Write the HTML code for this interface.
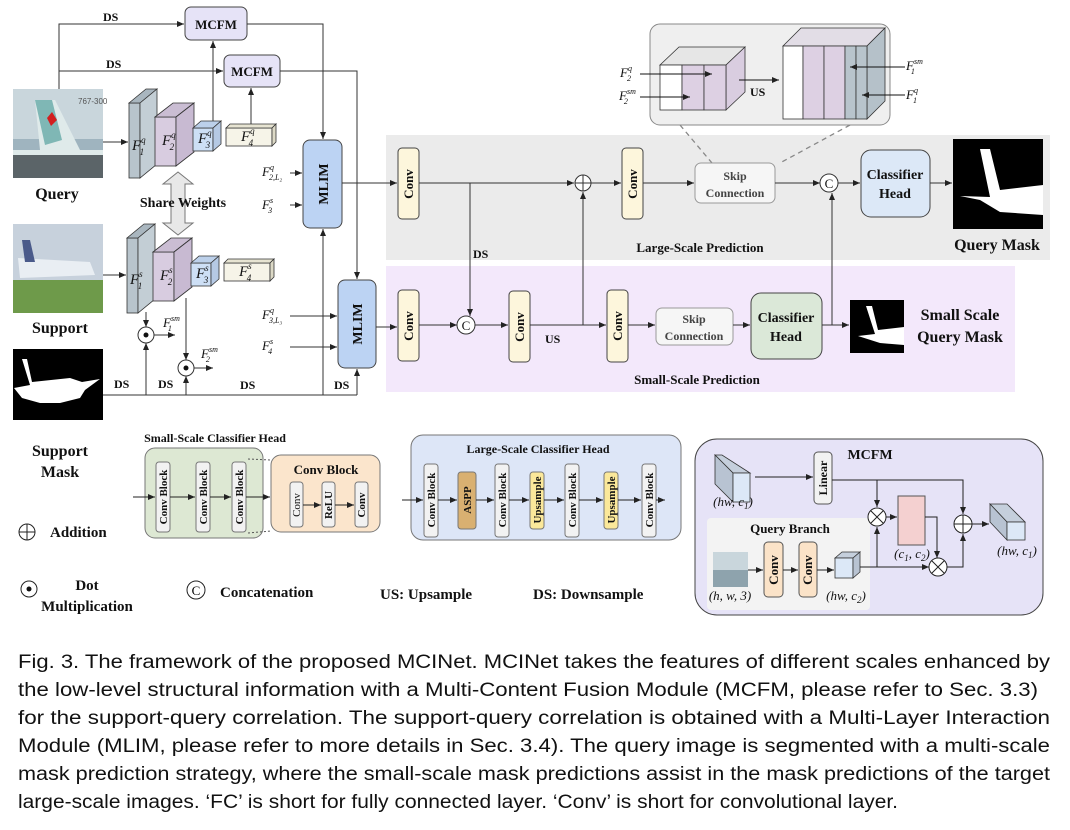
<!DOCTYPE html>
<html><head><meta charset="utf-8"><style>
html,body{margin:0;padding:0;background:#fff;}
svg{display:block;}
.b{font-family:"Liberation Serif",serif;font-weight:bold;fill:#111;}
.m{font-family:"Liberation Serif",serif;font-style:italic;fill:#111;}
.cap{font-family:"Liberation Sans",sans-serif;font-size:19px;fill:#111;}
</style></head><body>
<svg width="1070" height="830" viewBox="0 0 1070 830" xmlns="http://www.w3.org/2000/svg">
<defs>
<marker id="a" markerWidth="8" markerHeight="8" refX="7" refY="4" orient="auto" markerUnits="userSpaceOnUse"><path d="M0,1 L7,4 L0,7 z" fill="#222"/></marker>
</defs>

<!-- bands -->
<rect x="386" y="135" width="664" height="125" fill="#ebebeb"/>
<rect x="386" y="266" width="629" height="126" fill="#f3e8fb"/>

<!-- images -->
<rect x="13" y="89" width="90" height="89" fill="#9fb4bf"/>
<rect x="13" y="89" width="90" height="50" fill="#c9d6dc"/>
<polygon points="35,100 55,100 80,150 103,150 103,178 13,178 13,150 40,150" fill="#dfeaea"/>
<polygon points="35,100 52,100 62,140 45,145" fill="#7fb7b5"/>
<polygon points="47,118 52,112 57,120 51,126" fill="#d31f1f"/>
<rect x="13" y="155" width="90" height="23" fill="#5b6468"/>
<text x="78" y="104" font-family="Liberation Sans" font-size="8" fill="#555">767-300</text>
<rect x="13" y="224" width="90" height="89" fill="#c7d1dc"/>
<rect x="13" y="280" width="90" height="33" fill="#6e9a4a"/>
<polygon points="18,258 90,262 95,275 20,278" fill="#e9eef3"/>
<polygon points="22,240 30,240 35,262 25,262" fill="#4a5a8a"/>
<rect x="13" y="349" width="90" height="71" fill="#000"/>
<polygon points="22,359 27,359 32,382 70,378 82,382 100,379 85,390 80,398 60,403 40,403 22,398 14,388 30,385" fill="#fff"/>

<text class="b" x="57" y="199" font-size="16" text-anchor="middle">Query</text>
<text class="b" x="60" y="333" font-size="16" text-anchor="middle">Support</text>
<text class="b" x="60" y="456" font-size="16" text-anchor="middle">Support</text>
<text class="b" x="60" y="477" font-size="16" text-anchor="middle">Mask</text>

<!-- query cubes -->
<g id="cq" stroke="#333" stroke-width="0.8">
<rect x="129" y="103" width="11" height="75" fill="#b8c4cc"/>
<polygon points="129,103 146,89 157,89 140,103" fill="#a9b6bf"/>
<polygon points="140,103 157,89 157,164 140,178" fill="#c3ced5"/>
<rect x="155" y="117" width="21" height="49" fill="#d8cce0"/>
<polygon points="155,117 173,103 194,103 176,117" fill="#cabdd3"/>
<polygon points="176,117 194,103 194,152 176,166" fill="#c8bad2"/>
<rect x="193" y="128" width="20" height="23" fill="#cddff5"/>
<polygon points="193,128 201,121 221,121 213,128" fill="#bcd0ea"/>
<polygon points="213,128 221,121 221,144 213,151" fill="#b5c9e4"/>
<rect x="226" y="128" width="46" height="18" fill="#f6f4e8"/>
<polygon points="226,128 230,124 276,124 272,128" fill="#e7e4d2"/>
<polygon points="272,128 276,124 276,142 272,146" fill="#dcd9c6"/>
</g>
<use href="#cq" transform="translate(-2,135)"/>
<g class="m" font-size="15">
<text x="132" y="150">F<tspan font-size="9" dy="-7">q</tspan><tspan font-size="9" dx="-6" dy="12">1</tspan></text>
<text x="162" y="145">F<tspan font-size="9" dy="-7">q</tspan><tspan font-size="9" dx="-6" dy="12">2</tspan></text>
<text x="198" y="143">F<tspan font-size="9" dy="-7">q</tspan><tspan font-size="9" dx="-6" dy="12">3</tspan></text>
<text x="241" y="141">F<tspan font-size="9" dy="-7">q</tspan><tspan font-size="9" dx="-6" dy="12">4</tspan></text>
<text x="130" y="284">F<tspan font-size="9" dy="-7">s</tspan><tspan font-size="9" dx="-5" dy="12">1</tspan></text>
<text x="160" y="280">F<tspan font-size="9" dy="-7">s</tspan><tspan font-size="9" dx="-5" dy="12">2</tspan></text>
<text x="196" y="278">F<tspan font-size="9" dy="-7">s</tspan><tspan font-size="9" dx="-5" dy="12">3</tspan></text>
<text x="239" y="276">F<tspan font-size="9" dy="-7">s</tspan><tspan font-size="9" dx="-5" dy="12">4</tspan></text>
</g>

<!-- share weights arrow -->
<polygon points="178,172 193,184 185,184 185,223 193,223 178,235 163,223 171,223 171,184 163,184" fill="#e8e8e8" stroke="#777"/>
<text class="b" x="183" y="207" font-size="14" text-anchor="middle">Share Weights</text>

<!-- MCFM boxes -->
<rect x="185" y="7" width="62" height="33" rx="6" fill="#e6e3f7" stroke="#444"/>
<text class="b" x="216" y="29" font-size="13" text-anchor="middle">MCFM</text>
<rect x="224" y="55" width="56" height="32" rx="6" fill="#e6e3f7" stroke="#444"/>
<text class="b" x="252" y="76" font-size="13" text-anchor="middle">MCFM</text>

<!-- MLIM -->
<rect x="303" y="140" width="39" height="88" rx="7" fill="#bcd3f3" stroke="#444"/>
<text class="b" x="328" y="184" font-size="14" text-anchor="middle" transform="rotate(-90 328 184)" dy="0">MLIM</text>
<rect x="338" y="280" width="38" height="88" rx="7" fill="#bcd3f3" stroke="#444"/>
<text class="b" x="362" y="324" font-size="14" text-anchor="middle" transform="rotate(-90 362 324)">MLIM</text>

<g stroke="#333" stroke-width="1" fill="none">
<path d="M59,89 V24 H184" marker-end="url(#a)"/>
<path d="M59,71 H223" marker-end="url(#a)"/>
<path d="M247,24 H323 V139" marker-end="url(#a)"/>
<path d="M280,71 H357 V279" marker-end="url(#a)"/>
<path d="M213,121 V41" marker-end="url(#a)"/>
<path d="M251,124 V88" marker-end="url(#a)"/>
<path d="M103,142 H128" marker-end="url(#a)"/>
<path d="M103,275 H126" marker-end="url(#a)"/>
<path d="M290,173 H302" marker-end="url(#a)"/>
<path d="M290,205 H302" marker-end="url(#a)"/>
<path d="M290,316 H337" marker-end="url(#a)"/>
<path d="M290,347 H337" marker-end="url(#a)"/>
<path d="M342,183 H397" marker-end="url(#a)"/>
<path d="M376,327 H397" marker-end="url(#a)"/>
<path d="M103,395 H357"/>
<path d="M146,395 V343" marker-end="url(#a)"/>
<path d="M186,395 V376" marker-end="url(#a)"/>
<path d="M323,395 V229" marker-end="url(#a)"/>
<path d="M357,395 V369" marker-end="url(#a)"/>
<path d="M146,312 V327" marker-end="url(#a)"/>
<path d="M186,298 V360" marker-end="url(#a)"/>
<path d="M154,335 H175" marker-end="url(#a)"/>
<path d="M194,368 H213" marker-end="url(#a)"/>
</g>
<g stroke="#333" fill="#fff"><circle cx="146" cy="335" r="8"/><circle cx="186" cy="368" r="8"/></g>
<circle cx="146" cy="335" r="2.5" fill="#111"/><circle cx="186" cy="368" r="2.5" fill="#111"/>
<g class="m" font-size="13">
<text x="163" y="327">F<tspan font-size="8" dy="-6">sm</tspan><tspan font-size="8" dx="-12" dy="10">1</tspan></text>
<text x="201" y="358">F<tspan font-size="8" dy="-6">sm</tspan><tspan font-size="8" dx="-12" dy="10">2</tspan></text>
<text x="262" y="176">F<tspan font-size="8" dy="-6">q</tspan><tspan font-size="8" dx="-5" dy="10">2,L₂</tspan></text>
<text x="262" y="209">F<tspan font-size="8" dy="-6">s</tspan><tspan font-size="8" dx="-5" dy="10">3</tspan></text>
<text x="262" y="319">F<tspan font-size="8" dy="-6">q</tspan><tspan font-size="8" dx="-5" dy="10">3,L₃</tspan></text>
<text x="262" y="350">F<tspan font-size="8" dy="-6">s</tspan><tspan font-size="8" dx="-5" dy="10">4</tspan></text>
</g>
<g class="b" font-size="12">
<text x="103" y="21">DS</text><text x="106" y="68">DS</text>
<text x="114" y="388">DS</text><text x="158" y="388">DS</text><text x="240" y="389">DS</text><text x="334" y="389">DS</text>
</g>

<!-- inset -->
<path d="M680,125 L712,163 M850,125 L780,163" stroke="#888" stroke-width="1.3" stroke-dasharray="5,4"/>
<rect x="650" y="24" width="240" height="101" rx="10" fill="#efefef" stroke="#888"/>
<g stroke="#333" stroke-width="0.8">
<polygon points="660,65 679,47 745,47 726,65" fill="#e6e6e6"/>
<polygon points="726,65 745,47 745,92 726,110" fill="#d9cde0"/>
<rect x="660" y="65" width="22" height="45" fill="#fff"/>
<rect x="682" y="65" width="22" height="45" fill="#ddd0e3"/>
<rect x="704" y="65" width="22" height="45" fill="#ddd0e3"/>
<polygon points="783,46 801,28 885,28 867,46" fill="#e2dde6"/>
<polygon points="867,46 885,28 885,101 867,119" fill="#b5c1c9"/>
<rect x="783" y="46" width="20" height="73" fill="#fff"/>
<rect x="803" y="46" width="21" height="73" fill="#ddd0e3"/>
<rect x="824" y="46" width="21" height="73" fill="#ddd0e3"/>
<rect x="845" y="46" width="11" height="73" fill="#b8c4cc"/>
<rect x="856" y="46" width="11" height="73" fill="#b8c4cc"/>
</g>
<g stroke="#111" fill="none">
<path d="M640,74 H712" marker-end="url(#a)"/>
<path d="M640,97 H690" marker-end="url(#a)"/>
<path d="M739,80 H779" marker-end="url(#a)"/>
<path d="M905,67 H850" marker-end="url(#a)"/>
<path d="M905,95 H862" marker-end="url(#a)"/>
</g>
<g class="m" font-size="13">
<text x="620" y="77">F<tspan font-size="8" dy="-6">q</tspan><tspan font-size="8" dx="-5" dy="10">2</tspan></text>
<text x="619" y="100">F<tspan font-size="8" dy="-6">sm</tspan><tspan font-size="8" dx="-12" dy="10">2</tspan></text>
<text x="906" y="70">F<tspan font-size="8" dy="-6">sm</tspan><tspan font-size="8" dx="-12" dy="10">1</tspan></text>
<text x="906" y="99">F<tspan font-size="8" dy="-6">q</tspan><tspan font-size="8" dx="-5" dy="10">1</tspan></text>
</g>
<text class="b" x="750" y="96" font-size="12">US</text>

<!-- large row -->
<g stroke="#444" stroke-width="1">
<rect x="398" y="148" width="21" height="71" rx="4" fill="#fdf6dc"/>
<rect x="622" y="148" width="21" height="71" rx="4" fill="#fdf6dc"/>
<rect x="695" y="163" width="80" height="40" rx="6" fill="#f6f6f6" stroke="#999"/>
<rect x="861" y="150" width="69" height="67" rx="10" fill="#dce8f7"/>
<rect x="398" y="290" width="21" height="71" rx="4" fill="#fdf6dc"/>
<rect x="509" y="291" width="21" height="71" rx="4" fill="#fdf6dc"/>
<rect x="607" y="290" width="21" height="72" rx="4" fill="#fdf6dc"/>
<rect x="656" y="308" width="77" height="37" rx="6" fill="#f6f6f6" stroke="#999"/>
<rect x="751" y="293" width="71" height="66" rx="10" fill="#dbe8d8"/>
</g>
<g class="b" font-size="13" text-anchor="middle">
<text transform="translate(413,184) rotate(-90)">Conv</text>
<text transform="translate(637,184) rotate(-90)">Conv</text>
<text transform="translate(413,326) rotate(-90)">Conv</text>
<text transform="translate(524,327) rotate(-90)">Conv</text>
<text transform="translate(622,326) rotate(-90)">Conv</text>
</g>
<g class="b" text-anchor="middle" fill="#333">
<text x="735" y="180" font-size="12" fill="#444">Skip</text><text x="735" y="197" font-size="12" fill="#444">Connection</text>
<text x="694" y="323" font-size="12" fill="#444">Skip</text><text x="694" y="340" font-size="12" fill="#444">Connection</text>
<text x="895" y="179" font-size="14">Classifier</text><text x="895" y="198" font-size="14">Head</text>
<text x="786" y="322" font-size="14">Classifier</text><text x="786" y="341" font-size="14">Head</text>
</g>
<g stroke="#333" fill="none">
<path d="M419,183 H574" marker-end="url(#a)"/>
<path d="M591,183 H621" marker-end="url(#a)"/>
<path d="M643,183 H694" marker-end="url(#a)"/>
<path d="M775,183 H820" marker-end="url(#a)"/>
<path d="M838,183 H860" marker-end="url(#a)"/>
<path d="M930,183 H952" marker-end="url(#a)"/>
<path d="M470,183 V316" marker-end="url(#a)"/>
<path d="M419,325 H457" marker-end="url(#a)"/>
<path d="M475,325 H508" marker-end="url(#a)"/>
<path d="M530,325 H606" marker-end="url(#a)"/>
<path d="M583,325 V192" marker-end="url(#a)"/>
<path d="M628,325 H655" marker-end="url(#a)"/>
<path d="M733,325 H750" marker-end="url(#a)"/>
<path d="M822,325 H849" marker-end="url(#a)"/>
<path d="M832,325 V193" marker-end="url(#a)"/>
</g>
<g stroke="#333" fill="#fff">
<circle cx="583" cy="183" r="8"/><circle cx="829" cy="183" r="9"/><circle cx="466" cy="325" r="9"/>
</g>
<path d="M575,183 H591 M583,175 V191" stroke="#333"/>
<g font-family="Liberation Serif" font-size="13" text-anchor="middle" fill="#111"><text x="829" y="188">C</text><text x="466" y="330">C</text></g>
<text class="b" x="473" y="258" font-size="12">DS</text>
<text class="b" x="545" y="343" font-size="12">US</text>
<text class="b" x="700" y="252" font-size="13" text-anchor="middle">Large-Scale Prediction</text>
<text class="b" x="697" y="384" font-size="13" text-anchor="middle">Small-Scale Prediction</text>

<!-- masks -->
<rect x="953" y="139" width="90" height="90" fill="#000"/>
<polygon points="980,149 990,149 1000,190 1043,185 1043,215 1000,212 980,200 960,196 990,197" fill="#fff"/>
<text class="b" x="997" y="250" font-size="16" text-anchor="middle">Query Mask</text>
<rect x="850" y="300" width="54" height="53" fill="#000"/>
<polygon points="866,306 872,306 878,330 904,327 904,345 880,343 858,336 875,334" fill="#fff"/>
<text class="b" x="960" y="320" font-size="16" text-anchor="middle">Small Scale</text>
<text class="b" x="960" y="342" font-size="16" text-anchor="middle">Query Mask</text>

<!-- small-scale classifier head -->
<text class="b" x="215" y="442" font-size="12" text-anchor="middle">Small-Scale Classifier Head</text>
<rect x="145" y="448" width="118" height="90" rx="10" fill="#dde8d3" stroke="#777"/>
<path d="M248,459 L271,460 M248,533 L271,531" stroke="#555" stroke-dasharray="2,2"/>
<rect x="271" y="455" width="109" height="77" rx="10" fill="#fbe5cc" stroke="#777"/>
<text class="b" x="326" y="474" font-size="13" text-anchor="middle">Conv Block</text>
<g stroke="#777" fill="#f2f2f2">
<rect x="156" y="462" width="14" height="70" rx="3"/><rect x="196" y="462" width="14" height="70" rx="3"/><rect x="232" y="462" width="14" height="70" rx="3"/>
<rect x="290" y="482" width="13" height="45" rx="3"/><rect x="322" y="482" width="13" height="45" rx="3"/><rect x="355" y="482" width="13" height="45" rx="3"/>
</g>
<g stroke="#222" fill="none">
<path d="M133,497 H155" marker-end="url(#a)"/><path d="M170,497 H195" marker-end="url(#a)"/><path d="M210,497 H231" marker-end="url(#a)"/><path d="M246,497 H270" marker-end="url(#a)"/>
<path d="M303,505 H321" marker-end="url(#a)"/><path d="M335,505 H354" marker-end="url(#a)"/>
</g>
<g class="b" font-size="11" text-anchor="middle">
<text transform="translate(167,497) rotate(-90)">Conv Block</text>
<text transform="translate(207,497) rotate(-90)">Conv Block</text>
<text transform="translate(243,497) rotate(-90)">Conv Block</text>
<text transform="translate(300,505) rotate(-90)" font-weight="normal">Conv</text>
<text transform="translate(332,505) rotate(-90)">ReLU</text>
<text transform="translate(365,505) rotate(-90)">Conv</text>
</g>

<!-- large-scale classifier head -->
<rect x="411" y="435" width="270" height="105" rx="12" fill="#dde6f7" stroke="#777"/>
<text class="b" x="538" y="453" font-size="12" text-anchor="middle">Large-Scale Classifier Head</text>
<g stroke="#777">
<rect x="424" y="464" width="14" height="73" rx="3" fill="#f2f2f2"/>
<rect x="458" y="472" width="18" height="57" rx="3" fill="#d9b071"/>
<rect x="495" y="464" width="14" height="73" rx="3" fill="#f2f2f2"/>
<rect x="530" y="472" width="14" height="57" rx="3" fill="#fbe89a"/>
<rect x="565" y="464" width="14" height="73" rx="3" fill="#f2f2f2"/>
<rect x="604" y="472" width="14" height="57" rx="3" fill="#fbe89a"/>
<rect x="642" y="464" width="14" height="73" rx="3" fill="#f2f2f2"/>
</g>
<g stroke="#222" fill="none">
<path d="M402,500 H423" marker-end="url(#a)"/><path d="M438,500 H457" marker-end="url(#a)"/><path d="M476,500 H494" marker-end="url(#a)"/>
<path d="M509,500 H529" marker-end="url(#a)"/><path d="M544,500 H564" marker-end="url(#a)"/><path d="M579,500 H603" marker-end="url(#a)"/>
<path d="M618,500 H641" marker-end="url(#a)"/><path d="M656,500 H665" marker-end="url(#a)"/>
</g>
<g class="b" font-size="11" text-anchor="middle">
<text transform="translate(435,500) rotate(-90)">Conv Block</text>
<text transform="translate(471,500) rotate(-90)">ASPP</text>
<text transform="translate(506,500) rotate(-90)">Conv Block</text>
<text transform="translate(541,500) rotate(-90)">Upsample</text>
<text transform="translate(576,500) rotate(-90)">Conv Block</text>
<text transform="translate(615,500) rotate(-90)">Upsample</text>
<text transform="translate(653,500) rotate(-90)">Conv Block</text>
</g>

<!-- MCFM big -->
<rect x="695" y="439" width="348" height="176" rx="22" fill="#e6e3f7" stroke="#444"/>
<text class="b" x="870" y="459" font-size="14" text-anchor="middle">MCFM</text>
<rect x="707" y="518" width="163" height="92" rx="4" fill="#f3f3f3"/>
<text class="b" x="790" y="533" font-size="13" text-anchor="middle">Query Branch</text>
<g stroke="#333" stroke-width="0.8">
<polygon points="715,455 722,455 750,473 733,473" fill="#c5cfdc"/>
<polygon points="715,455 733,473 733,502 715,484" fill="#b8c3d2"/>
<rect x="733" y="473" width="17" height="29" fill="#dce8f7"/>
<polygon points="990,504 1007,504 1025,522 1007,522" fill="#c5cfdc"/>
<polygon points="990,504 1007,522 1007,540 990,522" fill="#b8c3d2"/>
<rect x="1007" y="522" width="18" height="18" fill="#dce8f7"/>
<polygon points="835,558 842,552 860,552 853,558" fill="#c5cfdc"/>
<rect x="835" y="558" width="18" height="20" fill="#dce8f7"/>
<polygon points="853,558 860,552 860,572 853,578" fill="#b8c3d2"/>
</g>
<rect x="814" y="452" width="18" height="52" rx="4" fill="#f2f2f2" stroke="#555"/>
<text class="b" font-size="12" text-anchor="middle" transform="translate(827,478) rotate(-90)">Linear</text>
<rect x="898" y="496" width="27" height="49" fill="#f4d0d0" stroke="#555"/>
<rect x="713" y="552" width="35" height="35" fill="#8ea3ad"/><rect x="713" y="552" width="35" height="18" fill="#c9d6dc"/>
<rect x="764" y="542" width="19" height="55" rx="4" fill="#fbe3c8" stroke="#555"/>
<rect x="799" y="542" width="18" height="55" rx="4" fill="#fbe3c8" stroke="#555"/>
<g class="b" font-size="13" text-anchor="middle"><text transform="translate(778,570) rotate(-90)">Conv</text><text transform="translate(812,570) rotate(-90)">Conv</text></g>
<g stroke="#222" fill="none">
<path d="M755,477 H813" marker-end="url(#a)"/>
<path d="M832,480 H963 V514" marker-end="url(#a)"/>
<path d="M877,480 V507" marker-end="url(#a)"/>
<path d="M886,517 H897" marker-end="url(#a)"/>
<path d="M925,517 H937 V558" marker-end="url(#a)"/>
<path d="M748,570 H763" marker-end="url(#a)"/>
<path d="M783,570 H798" marker-end="url(#a)"/>
<path d="M817,570 H834" marker-end="url(#a)"/>
<path d="M860,567 H929" marker-end="url(#a)"/>
<path d="M877,567 V527" marker-end="url(#a)"/>
<path d="M947,567 H963 V534" marker-end="url(#a)"/>
<path d="M972,524 H989" marker-end="url(#a)"/>
</g>
<g stroke="#222" fill="#fff"><circle cx="877" cy="517" r="9"/><circle cx="938" cy="567" r="9"/><circle cx="963" cy="524" r="9"/></g>
<path d="M871,511 L883,523 M883,511 L871,523 M932,561 L944,573 M944,561 L932,573 M954,524 H972 M963,515 V533" stroke="#222"/>
<g class="m" font-size="13" text-anchor="middle">
<text x="733" y="506">(hw, c<tspan font-size="9" dy="3">1</tspan><tspan dy="-3">)</tspan></text>
<text x="912" y="558">(c<tspan font-size="9" dy="3">1</tspan><tspan dy="-3">, c</tspan><tspan font-size="9" dy="3">2</tspan><tspan dy="-3">)</tspan></text>
<text x="1017" y="555">(hw, c<tspan font-size="9" dy="3">1</tspan><tspan dy="-3">)</tspan></text>
<text x="730" y="600">(h, w, 3)</text>
<text x="846" y="600">(hw, c<tspan font-size="9" dy="3">2</tspan><tspan dy="-3">)</tspan></text>
</g>

<!-- legend -->
<circle cx="27" cy="532" r="8" fill="none" stroke="#222"/><path d="M19,532 H35 M27,524 V540" stroke="#222"/>
<text class="b" x="50" y="537" font-size="15">Addition</text>
<circle cx="29" cy="589" r="8" fill="none" stroke="#222"/><circle cx="29" cy="589" r="2.5" fill="#111"/>
<text class="b" x="87" y="590" font-size="15" text-anchor="middle">Dot</text>
<text class="b" x="87" y="611" font-size="15" text-anchor="middle">Multiplication</text>
<circle cx="196" cy="590" r="9" fill="none" stroke="#222"/><text x="196" y="595" font-family="Liberation Serif" font-size="13" text-anchor="middle">C</text>
<text class="b" x="220" y="597" font-size="15">Concatenation</text>
<text class="b" x="380" y="599" font-size="15">US: Upsample</text>
<text class="b" x="533" y="599" font-size="15">DS: Downsample</text>

<!-- caption -->
<text class="cap" x="18" y="668" textLength="1032" lengthAdjust="spacingAndGlyphs">Fig. 3.  The framework of the proposed MCINet. MCINet takes the features of different scales enhanced by</text>
<text class="cap" x="18" y="696" textLength="1020" lengthAdjust="spacingAndGlyphs">the low-level structural information with a Multi-Content Fusion Module (MCFM, please refer to Sec. 3.3)</text>
<text class="cap" x="18" y="724" textLength="1032" lengthAdjust="spacingAndGlyphs">for the support-query correlation. The support-query correlation is obtained with a Multi-Layer Interaction</text>
<text class="cap" x="18" y="752" textLength="1032" lengthAdjust="spacingAndGlyphs">Module (MLIM, please refer to more details in Sec. 3.4). The query image is segmented with a multi-scale</text>
<text class="cap" x="18" y="780" textLength="1032" lengthAdjust="spacingAndGlyphs">mask prediction strategy, where the small-scale mask predictions assist in the mask predictions of the target</text>
<text class="cap" x="18" y="808" textLength="880" lengthAdjust="spacingAndGlyphs">large-scale images. ‘FC’ is short for fully connected layer. ‘Conv’ is short for convolutional layer.</text>
</svg>
</body></html>
